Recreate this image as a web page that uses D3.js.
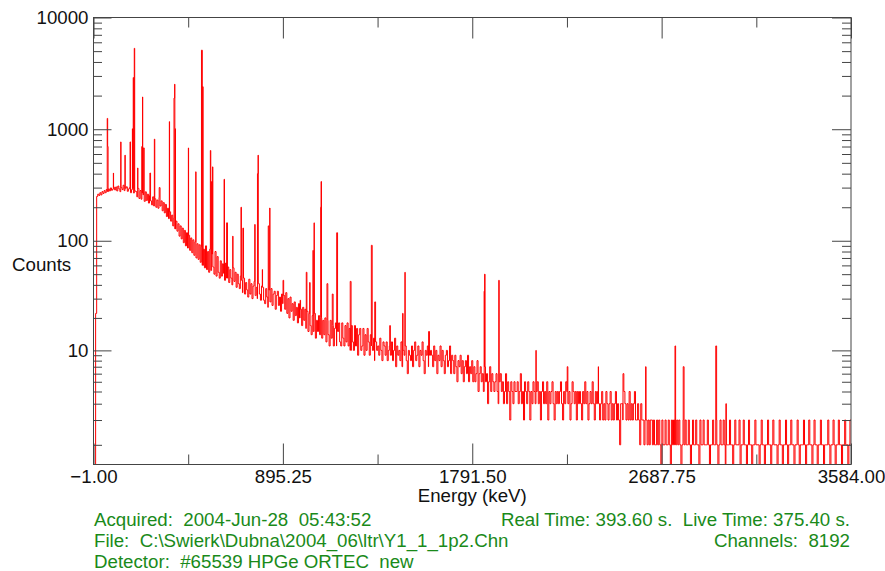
<!DOCTYPE html>
<html>
<head>
<meta charset="utf-8">
<script src="https://cdn.jsdelivr.net/npm/d3@7"></script>
<style>
  body { margin: 0; background: #fff; }
  svg text { font-family: "Liberation Sans", Arial, sans-serif; white-space: pre; }
</style>
</head>
<body>
<div id="chart"></div>
<script>
// spectrum counts, one value per 5 keV bin starting at -1 keV (20 bins per row = 100 keV)
const binStart = -1, binWidth = 5;
const counts = [
  0, 0, 22, 250, 262, 255, 270, 258, 276, 266, 282, 270, 288, 276, 292, 280, 298, 284, 290, 302,
  286, 304, 280, 310, 292, 276, 300, 288, 315, 282, 296, 305, 278, 292, 300, 270, 288, 296, 268, 280,
  276, 248, 295, 240, 282, 236, 270, 258, 226, 275, 230, 262, 218, 256, 228, 210, 248, 205, 238, 200,
  232, 196, 245, 205, 228, 186, 220, 178, 212, 165, 196, 158, 182, 150, 170, 136, 160, 128, 150, 122,
  142, 110, 136, 104, 130, 96, 124, 90, 118, 86, 112, 82, 106, 78, 102, 74, 98, 70, 94, 68,
  92, 64, 88, 60, 84, 57, 90, 55, 80, 52, 84, 54, 76, 58, 50, 80, 48, 72, 52, 46,
  66, 48, 62, 51, 44, 63, 46, 58, 42, 55, 46, 40, 57, 43, 52, 38, 50, 41, 37, 48,
  44, 34, 46, 33, 42, 36, 31, 45, 33, 41, 30, 39, 43, 32, 38, 30, 41, 33, 29, 39,
  38, 29, 27, 37, 31, 25, 36, 28, 37, 26, 33, 35, 24, 32, 35, 26, 31, 23, 33, 27,
  32, 24, 34, 22, 30, 20, 31, 23, 27, 19, 28, 21, 25, 18, 27, 20, 24, 17, 25, 19,
  24, 16, 23, 15, 22, 17, 14, 21, 15, 22, 13, 19, 15, 21, 14, 20, 13, 19, 14, 20,
  12, 19, 14, 11, 19, 13, 17, 11, 16, 18, 11, 15, 18, 12, 11, 18, 13, 11, 17, 12,
  18, 11, 16, 10, 17, 12, 10, 17, 11, 16, 9, 14, 16, 10, 11, 16, 9, 14, 10, 16,
  12, 9, 14, 11, 10, 13, 8, 12, 10, 11, 9, 13, 10, 8, 12, 11, 9, 12, 8, 10,
  11, 9, 12, 8, 10, 13, 7, 11, 9, 10, 8, 12, 7, 10, 9, 11, 8, 6, 10, 9,
  8, 11, 7, 10, 12, 8, 9, 11, 7, 10, 9, 12, 8, 6, 10, 9, 11, 7, 9, 10,
  9, 7, 11, 8, 10, 6, 9, 8, 11, 7, 10, 8, 6, 9, 10, 7, 8, 11, 6, 9,
  8, 6, 9, 7, 5, 8, 7, 9, 6, 8, 5, 7, 8, 6, 9, 5, 7, 6, 8, 5,
  7, 5, 6, 8, 4, 6, 7, 5, 6, 4, 7, 5, 6, 3, 5, 7, 4, 6, 5, 4,
  5, 6, 4, 3, 5, 6, 4, 5, 3, 4, 6, 3, 5, 4, 2, 5, 4, 3, 5, 4,
  4, 5, 3, 4, 6, 3, 4, 2, 5, 4, 3, 5, 4, 2, 4, 3, 5, 4, 3, 4,
  5, 3, 4, 2, 4, 5, 3, 4, 3, 5, 2, 4, 3, 4, 5, 3, 2, 4, 3, 4,
  3, 4, 5, 3, 2, 4, 3, 5, 4, 3, 4, 2, 3, 5, 4, 3, 4, 2, 4, 3,
  4, 3, 2, 4, 3, 5, 3, 4, 2, 3, 4, 3, 5, 3, 2, 4, 3, 4, 3, 2,
  3, 4, 2, 3, 2, 4, 3, 2, 3, 4, 2, 3, 2, 3, 4, 2, 3, 2, 1, 3,
  3, 2, 4, 3, 2, 3, 2, 4, 2, 3, 2, 3, 4, 2, 2, 3, 2, 1, 3, 2,
  2, 1, 2, 2, 1, 2, 1, 2, 2, 1, 2, 1, 1, 2, 1, 2, 1, 0, 2, 1,
  1, 2, 1, 1, 2, 1, 0, 2, 1, 2, 1, 1, 2, 1, 2, 1, 0, 1, 2, 1,
  2, 1, 1, 2, 1, 0, 1, 2, 1, 1, 2, 1, 1, 0, 2, 1, 1, 2, 1, 1,
  1, 2, 1, 0, 1, 1, 2, 1, 1, 2, 1, 0, 1, 2, 1, 1, 2, 1, 0, 1,
  1, 1, 2, 1, 1, 0, 1, 2, 1, 1, 1, 2, 0, 1, 1, 2, 1, 1, 0, 1,
  2, 1, 1, 0, 1, 1, 2, 1, 1, 1, 0, 1, 2, 1, 1, 0, 1, 1, 2, 1,
  1, 0, 1, 2, 1, 1, 1, 0, 1, 2, 1, 1, 0, 1, 1, 2, 1, 0, 1, 1,
  2, 1, 1, 0, 1, 1, 2, 1, 0, 1, 1, 1, 2, 1, 0, 1, 1, 2, 1, 1,
  0, 1, 2, 1, 1, 0, 1, 1, 2, 1, 1, 0, 1, 1, 1, 2, 1, 0, 1, 1,
  2, 1, 0, 1, 1, 2, 1, 1, 0, 1, 1, 2, 1, 1, 0, 1, 2
];

// narrow peaks: [energy keV, counts]
const peaks = [
  [64, 1250], [66, 700], [93, 405], [128, 770], [148, 586], [172, 770],
  [183, 1010], [187, 2900], [192, 5300], [208, 450], [228, 700], [231, 1945],
  [235, 680], [266, 405], [287, 815], [310, 300], [358, 1170], [380, 1900],
  [383, 2530], [386, 1010], [448, 680], [483, 416], [510, 5100], [514, 2400],
  [552, 645], [558, 340], [562, 460], [617, 356], [629, 145], [658, 110],
  [697, 200], [706, 130], [762, 140], [775, 400], [778, 586], [798, 55],
  [826, 136], [833, 197], [896, 44], [977, 29], [1006, 52], [1022, 42],
  [1038, 82], [1043, 145], [1074, 200], [1076, 340], [1104, 41], [1129, 33],
  [1150, 118], [1214, 43], [1314, 91], [1330, 28], [1401, 17], [1462, 22],
  [1473, 52], [1585, 15], [1848, 35], [1850, 50], [1917, 44], [2093, 10],
  [2241, 7], [2388, 7], [2505, 6], [2612, 7], [2751, 11], [2790, 7],
  [2944, 11], [2992, 3]
];

const xMajor = [-1, 895.25, 1791.5, 2687.75, 3584];
const xMinor = [447.125, 1343.375, 2239.625, 3135.875];
const yMajor = [10, 100, 1000, 10000];
const yMinor = [1, 2, 3, 4, 5, 6, 7, 8, 9,
  20, 30, 40, 50, 60, 70, 80, 90,
  200, 300, 400, 500, 600, 700, 800, 900,
  2000, 3000, 4000, 5000, 6000, 7000, 8000, 9000];

const infoLeft = [
  "Acquired:  2004-Jun-28  05:43:52",
  "File:  C:\\Swierk\\Dubna\\2004_06\\ltr\\Y1_1_1p2.Chn",
  "Detector:  #65539 HPGe ORTEC  new"
];
const infoRight = [
  "Real Time: 393.60 s.  Live Time: 375.40 s.",
  "Channels:  8192"
];

const W = 885, H = 571;
const L = 93.5, R = 851, T = 17.5, B = 464.5;
const off = 0.5; // counts are shown as log(counts + 0.5)
const fs = 18.7;

const svg = d3.select("#chart").append("svg")
  .attr("width", W).attr("height", H);

const x = d3.scaleLinear().domain([-1, 3584]).range([L, R]);
const y = d3.scaleLog().domain([1, 10000 + off]).range([B, T]).clamp(true);
const yc = c => y(Math.max(c + off, 1));

// build the step path points
const binAt = e => counts[Math.min(counts.length - 1, Math.max(0, Math.floor((e - binStart) / binWidth)))];
let pts = counts.map((c, i) => ({ e: binStart + i * binWidth, c: c }));
peaks.forEach(p => {
  pts.push({ e: p[0], c: p[1] });
  pts.push({ e: p[0] + 4, c: binAt(p[0] + 4) });
});
pts.push({ e: 3584, c: counts[counts.length - 1] });
pts.sort((a, b) => a.e - b.e);

svg.append("clipPath").attr("id", "plot")
  .append("rect").attr("x", L).attr("y", T).attr("width", R - L).attr("height", B - T);

const line = d3.line()
  .x(d => x(d.e))
  .y(d => yc(d.c))
  .curve(d3.curveStepAfter);

svg.append("path")
  .datum(pts)
  .attr("clip-path", "url(#plot)")
  .attr("fill", "none")
  .attr("stroke", "#ff0000")
  .attr("stroke-width", 1)
  .attr("d", line);

// axes (ticks pointing inward)
const axisColor = "#444";
function style(g) {
  g.select(".domain").remove();
  g.selectAll("line").attr("stroke", axisColor);
  g.selectAll("text").attr("font-size", fs).attr("fill", "#111")
    .attr("font-family", "'Liberation Sans', Arial, sans-serif");
}

svg.append("g").attr("transform", `translate(0,${B})`)
  .call(d3.axisBottom(x).tickValues(xMajor).tickSize(-21).tickPadding(5).tickFormat(d3.format(".2f")))
  .call(style);
svg.append("g").attr("transform", `translate(0,${B})`)
  .call(d3.axisBottom(x).tickValues(xMinor).tickSize(-10).tickFormat(""))
  .call(style);
svg.append("g").attr("transform", `translate(0,${T})`)
  .call(d3.axisTop(x).tickValues(xMajor).tickSize(-21).tickFormat(""))
  .call(style);
svg.append("g").attr("transform", `translate(0,${T})`)
  .call(d3.axisTop(x).tickValues(xMinor).tickSize(-10).tickFormat(""))
  .call(style);

svg.append("g").attr("transform", `translate(${L},0)`)
  .call(d3.axisLeft(y).tickValues(yMajor.map(v => v + off)).tickSize(-18).tickPadding(5)
    .tickFormat(d => String(Math.round(d - off))))
  .call(style);
svg.append("g").attr("transform", `translate(${L},0)`)
  .call(d3.axisLeft(y).tickValues(yMinor.map(v => v + off)).tickSize(-8.5).tickFormat(""))
  .call(style);
svg.append("g").attr("transform", `translate(${R},0)`)
  .call(d3.axisRight(y).tickValues(yMajor.map(v => v + off)).tickSize(-19).tickFormat(""))
  .call(style);
svg.append("g").attr("transform", `translate(${R},0)`)
  .call(d3.axisRight(y).tickValues(yMinor.map(v => v + off)).tickSize(-9).tickFormat(""))
  .call(style);

svg.append("rect")
  .attr("x", L).attr("y", T).attr("width", R - L).attr("height", B - T)
  .attr("fill", "none").attr("stroke", axisColor).attr("stroke-width", 1);

// axis titles
svg.append("text").attr("x", (L + R) / 2).attr("y", 502)
  .attr("text-anchor", "middle").attr("font-size", fs).attr("fill", "#111")
  .text("Energy (keV)");
svg.append("text").attr("x", 12).attr("y", 271)
  .attr("font-size", fs).attr("fill", "#111")
  .text("Counts");

// acquisition info
const green = "#1a8a1a";
svg.selectAll(".infoL").data(infoLeft).enter().append("text")
  .attr("class", "infoL")
  .attr("x", 94).attr("y", (d, i) => 525.5 + i * 21.3)
  .attr("font-size", fs).attr("fill", green)
  .text(d => d);
svg.selectAll(".infoR").data(infoRight).enter().append("text")
  .attr("class", "infoR")
  .attr("x", 850).attr("y", (d, i) => 525.5 + i * 21.3)
  .attr("text-anchor", "end").attr("font-size", fs).attr("fill", green)
  .text(d => d);
</script>
</body>
</html>
